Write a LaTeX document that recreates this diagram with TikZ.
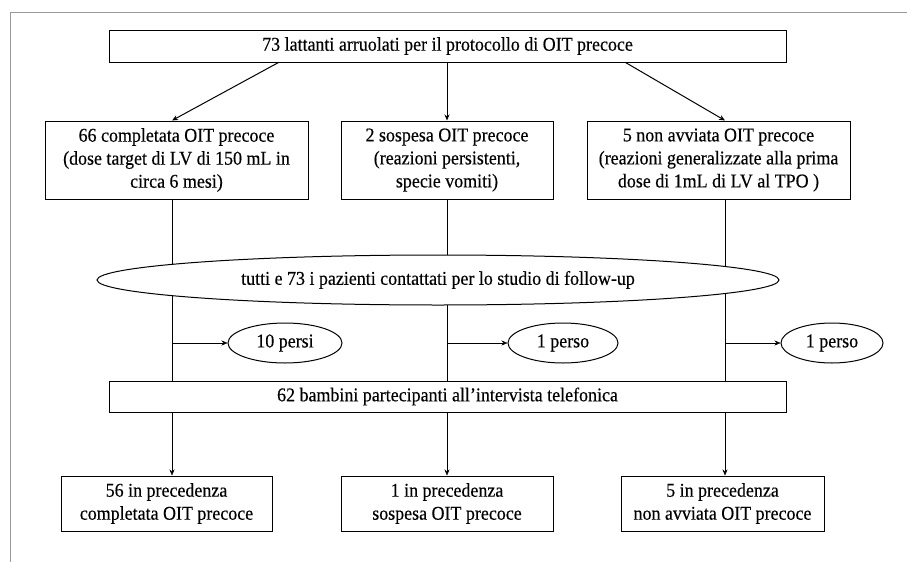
\documentclass[tikz,border=0pt]{standalone}
\usepackage{fontspec}
\setmainfont[FakeStretch=0.92,FakeBold=0.3]{Liberation Serif}
\usetikzlibrary{shapes.geometric,positioning,backgrounds,arrows.meta}

\begin{document}
\begin{tikzpicture}[x=1pt,y=-1pt,>={Stealth[length=6pt,width=5pt]},line width=1pt,
  every node/.style={font=\fontsize{19.5pt}{23pt}\selectfont},
  box/.style={draw,rectangle,align=center,inner sep=0pt},
  oval/.style={draw,ellipse,fill=white,inner sep=0pt}]
  \useasboundingbox (0,0) rectangle (907,562);
  \draw[line width=0.7pt,black!40] (10,562) -- (10,12) -- (907,12);

  % columns of the connectors
  \coordinate (c1) at (172,0);
  \coordinate (c2) at (447,0);
  \coordinate (c3) at (725,0);

  \node[box,minimum width=677,minimum height=32] (lattanti) at (447.5,46) {73 lattanti arruolati per il protocollo di OIT precoce};
  \node[box,minimum width=263,minimum height=78] (completata) at (176.5,160) {66 completata OIT precoce\\(dose target di LV di 150 mL in\\circa 6 mesi)};
  \node[box,minimum width=212,minimum height=78] (sospesa) at (447,160) {2 sospesa OIT precoce\\(reazioni persistenti,\\specie vomiti)};
  \node[box,minimum width=263,minimum height=78] (nonavviata) at (718.5,160) {5 non avviata OIT precoce\\(reazioni generalizzate alla prima\\dose di 1mL di LV al TPO )};

  \node[oval,minimum width=682,minimum height=50] (contattati) at (438,280) {tutti e 73 i pazienti contattati per lo studio di follow-up};

  \node[oval,minimum width=114,minimum height=40] (persi) at (285,343) {10 persi};
  \node[oval,minimum width=110,minimum height=40] (perso) at (563,343) {1 perso};
  \node[oval,minimum width=102,minimum height=40] (persoB) at (832,343) {1 perso};

  \node[box,minimum width=677,minimum height=31] (bambini) at (447.5,396.5) {62 bambini partecipanti all'intervista telefonica};

  \node[box,minimum width=211,minimum height=55] (prec1) at (166.5,503.5) {56 in precedenza\\completata OIT precoce};
  \node[box,minimum width=212,minimum height=55] (prec2) at (447,503.5) {1 in precedenza\\sospesa OIT precoce};
  \node[box,minimum width=203,minimum height=55] (prec3) at (722.5,503.5) {5 in precedenza\\non avviata OIT precoce};

  \draw[->] ([xshift=-169pt]lattanti.south) -- (completata.north -| c1);
  \draw[->] (lattanti.south -| c2) -- (sospesa.north -| c2);
  \draw[->] ([xshift=178pt]lattanti.south) -- (nonavviata.north -| c3);

  \begin{pgfonlayer}{background}
    \draw (completata.south -| c1) -- (bambini.north -| c1);
    \draw (sospesa.south -| c2) -- (bambini.north -| c2);
    \draw (nonavviata.south -| c3) -- (bambini.north -| c3);
  \end{pgfonlayer}

  \draw[->] (persi.west -| c1) -- (persi.west);
  \draw[->] (perso.west -| c2) -- (perso.west);
  \draw[->] (persoB.west -| c3) -- (persoB.west);

  \draw[->] (bambini.south -| c1) -- (prec1.north -| c1);
  \draw[->] (bambini.south -| c2) -- (prec2.north -| c2);
  \draw[->] (bambini.south -| c3) -- (prec3.north -| c3);
\end{tikzpicture}
\end{document}
